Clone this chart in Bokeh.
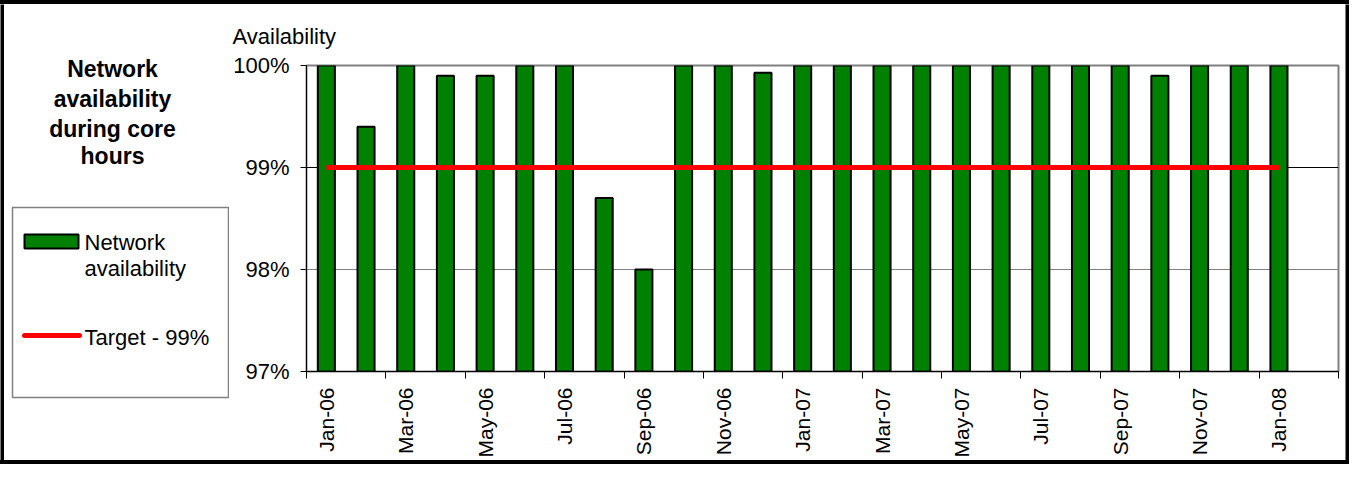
import math
from bokeh.plotting import figure
from bokeh.layouts import row, column
from bokeh.models import Range1d, FixedTicker, PrintfTickFormatter, Span, Div
from bokeh.core.properties import value
from bokeh.embed import file_html
from bokeh.resources import INLINE

# ---- data ----
months = ["Jan-06", "Feb-06", "Mar-06", "Apr-06", "May-06", "Jun-06", "Jul-06", "Aug-06",
          "Sep-06", "Oct-06", "Nov-06", "Dec-06", "Jan-07", "Feb-07", "Mar-07", "Apr-07",
          "May-07", "Jun-07", "Jul-07", "Aug-07", "Sep-07", "Oct-07", "Nov-07", "Dec-07", "Jan-08"]
availability = [100.0, 99.4, 100.0, 99.9, 99.9, 100.0, 100.0, 98.7,
                98.0, 100.0, 100.0, 99.93, 100.0, 100.0, 100.0, 100.0,
                100.0, 100.0, 100.0, 100.0, 100.0, 99.9, 100.0, 100.0, 100.0]
target = [99.0, 99.0, 99.0, 99.0, 99.0, 99.0, 99.0, 99.0,
          99.0, 99.0, 99.0, 99.0, 99.0, 99.0, 99.0, 99.0,
          99.0, 99.0, 99.0, 99.0, 99.0, 99.0, 99.0, 99.0, 99.0]
y_ticks = [97, 98, 99, 100]
title_lines = ["Network", "availability", "during core", "hours"]
bar_legend_lines = ["Network", "availability"]
line_legend = "Target  - 99%"
y_title = "Availability"

FONT = "Liberation Sans"
GREEN = "#008000"
RED = "#FF0000"
GRAY = "#808080"

# ---- overall geometry (pixels) ----
TOT_W, TOT_H = 1349, 464
B = 4                      # outer black border
INNER_H = TOT_H - 2 * B    # 456
LEFT_W = 225               # title + legend panel (x 4..229)
MAIN_W = TOT_W - 2 * B - LEFT_W
FRAME_L, FRAME_R, FRAME_T, FRAME_B = 306, 1338, 65, 371


def vstrip(h):
    s = figure(width=B, height=h, output_backend="svg", toolbar_location=None,
               x_axis_location=None, y_axis_location=None,
               min_border=0, outline_line_color=None, frame_align=False)
    s.background_fill_color = "black"
    s.border_fill_color = "black"
    s.grid.visible = False
    return s


def hstrip(w):
    return Div(text="", width=w, height=B, margin=0,
               styles={"background-color": "black", "overflow": "hidden"})


# ---- left panel: chart title and legend (pixel coordinates) ----
lf = figure(width=LEFT_W, height=INNER_H, output_backend="svg", toolbar_location=None,
            x_range=Range1d(B, B + LEFT_W), y_range=Range1d(B + INNER_H, B),
            x_axis_location=None, y_axis_location=None, min_border=0,
            outline_line_color=None, frame_align=False)
lf.grid.visible = False
lf.background_fill_color = "white"
lf.border_fill_color = "white"

lf.text(x=[112] * len(title_lines), y=[68, 98, 128, 155], text=title_lines,
        text_align="center", text_baseline="alphabetic",
        text_font=value(FONT), text_font_size="23px", text_font_style="bold",
        text_color="black")

# legend box
lf.quad(left=[12], right=[228], top=[207], bottom=[397],
        fill_color="white", line_color=GRAY, line_width=1.5)
lf.quad(left=[24], right=[78], top=[234], bottom=[248],
        fill_color=GREEN, line_color="black", line_width=2)
lf.line(x=[24, 79], y=[335, 335], line_color=RED, line_width=5, line_cap="round")
lf.text(x=[84, 84, 84], y=[242, 268, 337], text=bar_legend_lines + [line_legend],
        text_align="left", text_baseline="alphabetic",
        text_font=value(FONT), text_font_size="22px", text_color="black")

# ---- main chart ----
p = figure(width=MAIN_W, height=INNER_H, output_backend="svg", toolbar_location=None,
           x_range=Range1d(-0.5, len(months) + 0.5), y_range=Range1d(97, 100),
           min_border_left=FRAME_L - (B + LEFT_W),
           min_border_right=(B + LEFT_W + MAIN_W) - FRAME_R,
           min_border_top=FRAME_T - B,
           min_border_bottom=(B + INNER_H) - FRAME_B,
           frame_align=False)
p.background_fill_color = "white"
p.border_fill_color = "white"
p.outline_line_color = GRAY
p.outline_line_width = 2

p.title.text = y_title
p.title.align = "left"
p.title.offset = 232 - FRAME_L
p.title.standoff = 34
p.title.text_font = FONT
p.title.text_font_size = "22px"
p.title.text_font_style = "normal"
p.title.text_color = "black"

p.xgrid.grid_line_color = None
p.ygrid.grid_line_color = GRAY
p.ygrid.grid_line_width = 1
p.add_layout(Span(location=target[0], dimension="width", line_color="black",
                  line_width=1, level="underlay"))

x_idx = list(range(len(months)))
p.vbar(x=x_idx, top=availability, bottom=y_ticks[0], width=0.43,
       fill_color=GREEN, line_color="black", line_width=2)
p.line(x=x_idx, y=target, line_color=RED, line_width=5)

# y axis
p.yaxis.ticker = FixedTicker(ticks=y_ticks)
p.yaxis.formatter = PrintfTickFormatter(format="%d%%")
p.yaxis.major_tick_out = 6
p.yaxis.major_tick_in = 0
p.yaxis.minor_tick_line_color = None
p.yaxis.major_label_standoff = 11
p.yaxis.major_label_text_font = FONT
p.yaxis.major_label_text_font_size = "22px"
p.yaxis.major_label_text_color = "black"
p.yaxis.axis_line_color = "black"
p.yaxis.major_tick_line_color = "black"

# x axis: labels every other month at bar centres, ticks at category boundaries
label_pos = list(range(0, len(months), 2))
tick_pos = [i - 0.5 for i in range(0, len(months) + 2, 2)]
p.xaxis.ticker = FixedTicker(ticks=label_pos, minor_ticks=tick_pos)
p.xaxis.major_label_overrides = {i: months[i] for i in label_pos}
p.xaxis.major_label_orientation = math.pi / 2
p.xaxis.major_tick_out = 0
p.xaxis.major_tick_in = 0
p.xaxis.major_tick_line_color = None
p.xaxis.minor_tick_out = 7
p.xaxis.minor_tick_in = 0
p.xaxis.minor_tick_line_color = "black"
p.xaxis.major_label_standoff = 9
p.xaxis.major_label_text_font = FONT
p.xaxis.major_label_text_font_size = "21px"
p.xaxis.major_label_text_color = "black"
p.xaxis.axis_line_color = "black"

layout = column(
    hstrip(TOT_W),
    row(vstrip(INNER_H), lf, p, vstrip(INNER_H)),
    hstrip(TOT_W),
)

open("out.html", "w").write(file_html(layout, INLINE))
